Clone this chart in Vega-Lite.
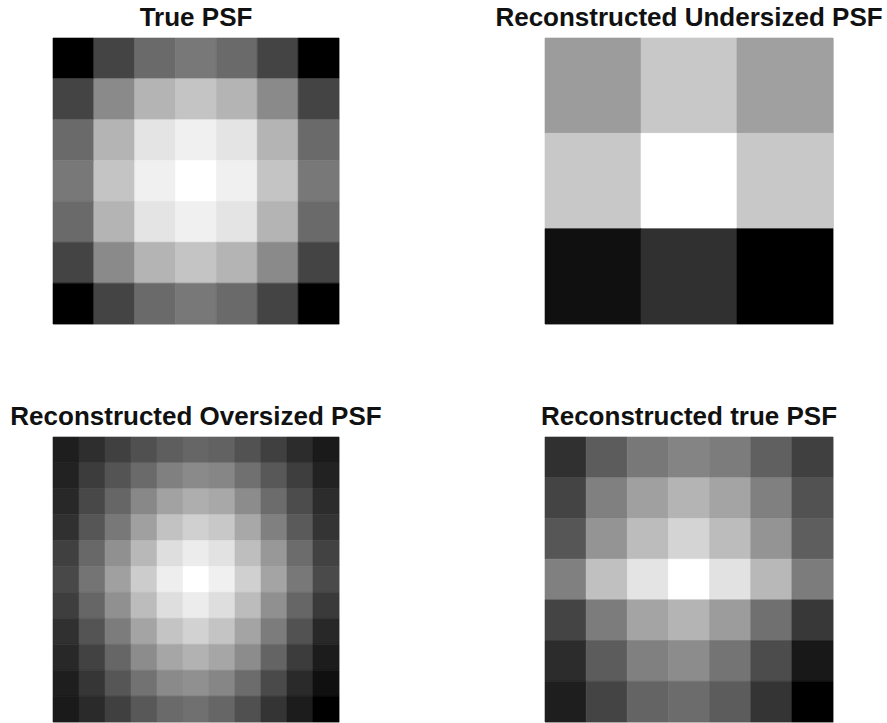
{
  "$schema": "https://vega.github.io/schema/vega-lite/v6.json",
  "background": "white",
  "padding": {"left": 9, "top": 4, "right": 0, "bottom": 0},
  "bounds": "flush",
  "columns": 2,
  "spacing": {"row": 113, "column": 206},
  "config": {
    "view": {"stroke": "#d4d4d4", "strokeWidth": 1},
    "title": {"font": "Liberation Sans", "fontSize": 26, "fontWeight": "bold", "color": "#111111", "anchor": "middle", "offset": 7, "baseline": "alphabetic"},
    "axis": {"disable": true},
    "rect": {"strokeWidth": 0.6}
  },
  "datasets": {
    "psf": [
      {"panel":"true","row":0,"col":0,"value":0},{"panel":"true","row":0,"col":1,"value":68},{"panel":"true","row":0,"col":2,"value":106},{"panel":"true","row":0,"col":3,"value":120},{"panel":"true","row":0,"col":4,"value":106},{"panel":"true","row":0,"col":5,"value":68},{"panel":"true","row":0,"col":6,"value":0},
      {"panel":"true","row":1,"col":0,"value":68},{"panel":"true","row":1,"col":1,"value":138},{"panel":"true","row":1,"col":2,"value":180},{"panel":"true","row":1,"col":3,"value":196},{"panel":"true","row":1,"col":4,"value":180},{"panel":"true","row":1,"col":5,"value":138},{"panel":"true","row":1,"col":6,"value":68},
      {"panel":"true","row":2,"col":0,"value":106},{"panel":"true","row":2,"col":1,"value":180},{"panel":"true","row":2,"col":2,"value":228},{"panel":"true","row":2,"col":3,"value":240},{"panel":"true","row":2,"col":4,"value":228},{"panel":"true","row":2,"col":5,"value":180},{"panel":"true","row":2,"col":6,"value":106},
      {"panel":"true","row":3,"col":0,"value":120},{"panel":"true","row":3,"col":1,"value":196},{"panel":"true","row":3,"col":2,"value":240},{"panel":"true","row":3,"col":3,"value":255},{"panel":"true","row":3,"col":4,"value":240},{"panel":"true","row":3,"col":5,"value":196},{"panel":"true","row":3,"col":6,"value":120},
      {"panel":"true","row":4,"col":0,"value":106},{"panel":"true","row":4,"col":1,"value":180},{"panel":"true","row":4,"col":2,"value":228},{"panel":"true","row":4,"col":3,"value":240},{"panel":"true","row":4,"col":4,"value":228},{"panel":"true","row":4,"col":5,"value":180},{"panel":"true","row":4,"col":6,"value":106},
      {"panel":"true","row":5,"col":0,"value":68},{"panel":"true","row":5,"col":1,"value":138},{"panel":"true","row":5,"col":2,"value":180},{"panel":"true","row":5,"col":3,"value":196},{"panel":"true","row":5,"col":4,"value":180},{"panel":"true","row":5,"col":5,"value":138},{"panel":"true","row":5,"col":6,"value":68},
      {"panel":"true","row":6,"col":0,"value":0},{"panel":"true","row":6,"col":1,"value":68},{"panel":"true","row":6,"col":2,"value":106},{"panel":"true","row":6,"col":3,"value":120},{"panel":"true","row":6,"col":4,"value":106},{"panel":"true","row":6,"col":5,"value":68},{"panel":"true","row":6,"col":6,"value":0},

      {"panel":"under","row":0,"col":0,"value":156},{"panel":"under","row":0,"col":1,"value":200},{"panel":"under","row":0,"col":2,"value":160},
      {"panel":"under","row":1,"col":0,"value":200},{"panel":"under","row":1,"col":1,"value":255},{"panel":"under","row":1,"col":2,"value":200},
      {"panel":"under","row":2,"col":0,"value":16},{"panel":"under","row":2,"col":1,"value":48},{"panel":"under","row":2,"col":2,"value":0},

      {"panel":"over","row":0,"col":0,"value":30},{"panel":"over","row":0,"col":1,"value":46},{"panel":"over","row":0,"col":2,"value":64},{"panel":"over","row":0,"col":3,"value":80},{"panel":"over","row":0,"col":4,"value":94},{"panel":"over","row":0,"col":5,"value":102},{"panel":"over","row":0,"col":6,"value":98},{"panel":"over","row":0,"col":7,"value":82},{"panel":"over","row":0,"col":8,"value":64},{"panel":"over","row":0,"col":9,"value":44},{"panel":"over","row":0,"col":10,"value":26},
      {"panel":"over","row":1,"col":0,"value":34},{"panel":"over","row":1,"col":1,"value":60},{"panel":"over","row":1,"col":2,"value":84},{"panel":"over","row":1,"col":3,"value":106},{"panel":"over","row":1,"col":4,"value":128},{"panel":"over","row":1,"col":5,"value":138},{"panel":"over","row":1,"col":6,"value":134},{"panel":"over","row":1,"col":7,"value":112},{"panel":"over","row":1,"col":8,"value":88},{"panel":"over","row":1,"col":9,"value":62},{"panel":"over","row":1,"col":10,"value":34},
      {"panel":"over","row":2,"col":0,"value":40},{"panel":"over","row":2,"col":1,"value":72},{"panel":"over","row":2,"col":2,"value":102},{"panel":"over","row":2,"col":3,"value":136},{"panel":"over","row":2,"col":4,"value":162},{"panel":"over","row":2,"col":5,"value":174},{"panel":"over","row":2,"col":6,"value":168},{"panel":"over","row":2,"col":7,"value":140},{"panel":"over","row":2,"col":8,"value":108},{"panel":"over","row":2,"col":9,"value":76},{"panel":"over","row":2,"col":10,"value":44},
      {"panel":"over","row":3,"col":0,"value":48},{"panel":"over","row":3,"col":1,"value":86},{"panel":"over","row":3,"col":2,"value":120},{"panel":"over","row":3,"col":3,"value":160},{"panel":"over","row":3,"col":4,"value":194},{"panel":"over","row":3,"col":5,"value":208},{"panel":"over","row":3,"col":6,"value":200},{"panel":"over","row":3,"col":7,"value":168},{"panel":"over","row":3,"col":8,"value":128},{"panel":"over","row":3,"col":9,"value":90},{"panel":"over","row":3,"col":10,"value":52},
      {"panel":"over","row":4,"col":0,"value":64},{"panel":"over","row":4,"col":1,"value":104},{"panel":"over","row":4,"col":2,"value":144},{"panel":"over","row":4,"col":3,"value":184},{"panel":"over","row":4,"col":4,"value":222},{"panel":"over","row":4,"col":5,"value":236},{"panel":"over","row":4,"col":6,"value":226},{"panel":"over","row":4,"col":7,"value":190},{"panel":"over","row":4,"col":8,"value":152},{"panel":"over","row":4,"col":9,"value":108},{"panel":"over","row":4,"col":10,"value":66},
      {"panel":"over","row":5,"col":0,"value":72},{"panel":"over","row":5,"col":1,"value":116},{"panel":"over","row":5,"col":2,"value":160},{"panel":"over","row":5,"col":3,"value":204},{"panel":"over","row":5,"col":4,"value":238},{"panel":"over","row":5,"col":5,"value":255},{"panel":"over","row":5,"col":6,"value":240},{"panel":"over","row":5,"col":7,"value":208},{"panel":"over","row":5,"col":8,"value":164},{"panel":"over","row":5,"col":9,"value":120},{"panel":"over","row":5,"col":10,"value":74},
      {"panel":"over","row":6,"col":0,"value":62},{"panel":"over","row":6,"col":1,"value":102},{"panel":"over","row":6,"col":2,"value":144},{"panel":"over","row":6,"col":3,"value":188},{"panel":"over","row":6,"col":4,"value":222},{"panel":"over","row":6,"col":5,"value":236},{"panel":"over","row":6,"col":6,"value":222},{"panel":"over","row":6,"col":7,"value":188},{"panel":"over","row":6,"col":8,"value":144},{"panel":"over","row":6,"col":9,"value":102},{"panel":"over","row":6,"col":10,"value":58},
      {"panel":"over","row":7,"col":0,"value":48},{"panel":"over","row":7,"col":1,"value":84},{"panel":"over","row":7,"col":2,"value":124},{"panel":"over","row":7,"col":3,"value":164},{"panel":"over","row":7,"col":4,"value":196},{"panel":"over","row":7,"col":5,"value":210},{"panel":"over","row":7,"col":6,"value":196},{"panel":"over","row":7,"col":7,"value":164},{"panel":"over","row":7,"col":8,"value":124},{"panel":"over","row":7,"col":9,"value":82},{"panel":"over","row":7,"col":10,"value":40},
      {"panel":"over","row":8,"col":0,"value":40},{"panel":"over","row":8,"col":1,"value":66},{"panel":"over","row":8,"col":2,"value":102},{"panel":"over","row":8,"col":3,"value":140},{"panel":"over","row":8,"col":4,"value":166},{"panel":"over","row":8,"col":5,"value":178},{"panel":"over","row":8,"col":6,"value":166},{"panel":"over","row":8,"col":7,"value":140},{"panel":"over","row":8,"col":8,"value":100},{"panel":"over","row":8,"col":9,"value":60},{"panel":"over","row":8,"col":10,"value":28},
      {"panel":"over","row":9,"col":0,"value":30},{"panel":"over","row":9,"col":1,"value":54},{"panel":"over","row":9,"col":2,"value":86},{"panel":"over","row":9,"col":3,"value":114},{"panel":"over","row":9,"col":4,"value":138},{"panel":"over","row":9,"col":5,"value":144},{"panel":"over","row":9,"col":6,"value":134},{"panel":"over","row":9,"col":7,"value":108},{"panel":"over","row":9,"col":8,"value":74},{"panel":"over","row":9,"col":9,"value":42},{"panel":"over","row":9,"col":10,"value":16},
      {"panel":"over","row":10,"col":0,"value":26},{"panel":"over","row":10,"col":1,"value":42},{"panel":"over","row":10,"col":2,"value":64},{"panel":"over","row":10,"col":3,"value":88},{"panel":"over","row":10,"col":4,"value":106},{"panel":"over","row":10,"col":5,"value":112},{"panel":"over","row":10,"col":6,"value":102},{"panel":"over","row":10,"col":7,"value":80},{"panel":"over","row":10,"col":8,"value":52},{"panel":"over","row":10,"col":9,"value":28},{"panel":"over","row":10,"col":10,"value":0},

      {"panel":"recon","row":0,"col":0,"value":48},{"panel":"recon","row":0,"col":1,"value":92},{"panel":"recon","row":0,"col":2,"value":120},{"panel":"recon","row":0,"col":3,"value":132},{"panel":"recon","row":0,"col":4,"value":124},{"panel":"recon","row":0,"col":5,"value":96},{"panel":"recon","row":0,"col":6,"value":64},
      {"panel":"recon","row":1,"col":0,"value":68},{"panel":"recon","row":1,"col":1,"value":128},{"panel":"recon","row":1,"col":2,"value":160},{"panel":"recon","row":1,"col":3,"value":180},{"panel":"recon","row":1,"col":4,"value":164},{"panel":"recon","row":1,"col":5,"value":128},{"panel":"recon","row":1,"col":6,"value":82},
      {"panel":"recon","row":2,"col":0,"value":86},{"panel":"recon","row":2,"col":1,"value":148},{"panel":"recon","row":2,"col":2,"value":188},{"panel":"recon","row":2,"col":3,"value":212},{"panel":"recon","row":2,"col":4,"value":188},{"panel":"recon","row":2,"col":5,"value":148},{"panel":"recon","row":2,"col":6,"value":94},
      {"panel":"recon","row":3,"col":0,"value":128},{"panel":"recon","row":3,"col":1,"value":192},{"panel":"recon","row":3,"col":2,"value":228},{"panel":"recon","row":3,"col":3,"value":255},{"panel":"recon","row":3,"col":4,"value":226},{"panel":"recon","row":3,"col":5,"value":184},{"panel":"recon","row":3,"col":6,"value":124},
      {"panel":"recon","row":4,"col":0,"value":68},{"panel":"recon","row":4,"col":1,"value":124},{"panel":"recon","row":4,"col":2,"value":164},{"panel":"recon","row":4,"col":3,"value":180},{"panel":"recon","row":4,"col":4,"value":156},{"panel":"recon","row":4,"col":5,"value":112},{"panel":"recon","row":4,"col":6,"value":56},
      {"panel":"recon","row":5,"col":0,"value":44},{"panel":"recon","row":5,"col":1,"value":92},{"panel":"recon","row":5,"col":2,"value":128},{"panel":"recon","row":5,"col":3,"value":140},{"panel":"recon","row":5,"col":4,"value":116},{"panel":"recon","row":5,"col":5,"value":76},{"panel":"recon","row":5,"col":6,"value":24},
      {"panel":"recon","row":6,"col":0,"value":30},{"panel":"recon","row":6,"col":1,"value":68},{"panel":"recon","row":6,"col":2,"value":100},{"panel":"recon","row":6,"col":3,"value":108},{"panel":"recon","row":6,"col":4,"value":92},{"panel":"recon","row":6,"col":5,"value":52},{"panel":"recon","row":6,"col":6,"value":0}
    ]
  },
  "concat": [
    {
      "title": "True PSF",
      "width": 286, "height": 286,
      "data": {"name": "psf"},
      "transform": [{"filter": "datum.panel === 'true'"}],
      "mark": {"type": "rect"},
      "encoding": {
        "x": {"field": "col", "type": "ordinal", "scale": {"paddingInner": 0, "paddingOuter": 0}, "axis": null},
        "y": {"field": "row", "type": "ordinal", "scale": {"paddingInner": 0, "paddingOuter": 0}, "axis": null},
        "color": {"field": "value", "type": "quantitative", "scale": {"domain": [0, 255], "range": ["#000000", "#ffffff"], "interpolate": "rgb"}, "legend": null},
        "stroke": {"field": "value", "type": "quantitative", "scale": {"domain": [0, 255], "range": ["#000000", "#ffffff"], "interpolate": "rgb"}, "legend": null}
      }
    },
    {
      "title": "Reconstructed Undersized PSF",
      "width": 288, "height": 286,
      "data": {"name": "psf"},
      "transform": [{"filter": "datum.panel === 'under'"}],
      "mark": {"type": "rect"},
      "encoding": {
        "x": {"field": "col", "type": "ordinal", "scale": {"paddingInner": 0, "paddingOuter": 0}, "axis": null},
        "y": {"field": "row", "type": "ordinal", "scale": {"paddingInner": 0, "paddingOuter": 0}, "axis": null},
        "color": {"field": "value", "type": "quantitative", "scale": {"domain": [0, 255], "range": ["#000000", "#ffffff"], "interpolate": "rgb"}, "legend": null},
        "stroke": {"field": "value", "type": "quantitative", "scale": {"domain": [0, 255], "range": ["#000000", "#ffffff"], "interpolate": "rgb"}, "legend": null}
      }
    },
    {
      "title": "Reconstructed Oversized PSF",
      "width": 286, "height": 285,
      "data": {"name": "psf"},
      "transform": [{"filter": "datum.panel === 'over'"}],
      "mark": {"type": "rect"},
      "encoding": {
        "x": {"field": "col", "type": "ordinal", "scale": {"paddingInner": 0, "paddingOuter": 0}, "axis": null},
        "y": {"field": "row", "type": "ordinal", "scale": {"paddingInner": 0, "paddingOuter": 0}, "axis": null},
        "color": {"field": "value", "type": "quantitative", "scale": {"domain": [0, 255], "range": ["#000000", "#ffffff"], "interpolate": "rgb"}, "legend": null},
        "stroke": {"field": "value", "type": "quantitative", "scale": {"domain": [0, 255], "range": ["#000000", "#ffffff"], "interpolate": "rgb"}, "legend": null}
      }
    },
    {
      "title": "Reconstructed true PSF",
      "width": 288, "height": 285,
      "data": {"name": "psf"},
      "transform": [{"filter": "datum.panel === 'recon'"}],
      "mark": {"type": "rect"},
      "encoding": {
        "x": {"field": "col", "type": "ordinal", "scale": {"paddingInner": 0, "paddingOuter": 0}, "axis": null},
        "y": {"field": "row", "type": "ordinal", "scale": {"paddingInner": 0, "paddingOuter": 0}, "axis": null},
        "color": {"field": "value", "type": "quantitative", "scale": {"domain": [0, 255], "range": ["#000000", "#ffffff"], "interpolate": "rgb"}, "legend": null},
        "stroke": {"field": "value", "type": "quantitative", "scale": {"domain": [0, 255], "range": ["#000000", "#ffffff"], "interpolate": "rgb"}, "legend": null}
      }
    }
  ]
}
